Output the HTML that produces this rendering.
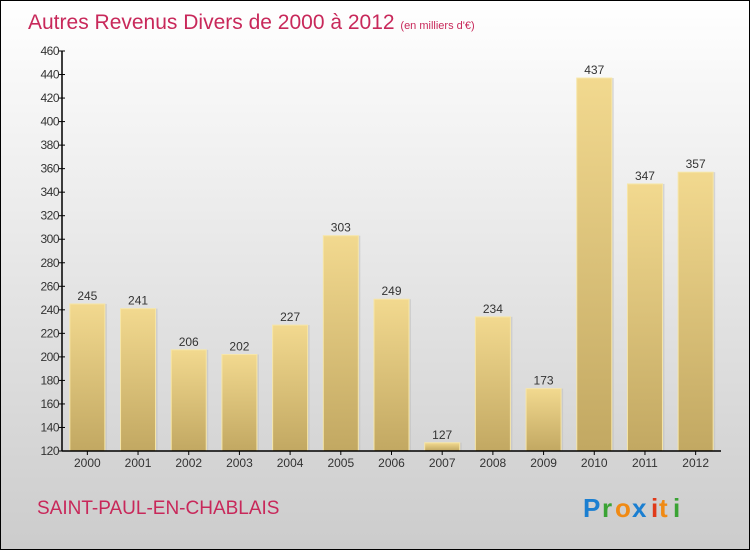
<!DOCTYPE html>
<html><head><meta charset="utf-8"><style>
body{margin:0;}
#c{position:relative;width:750px;height:550px;box-sizing:border-box;border:1px solid #000;background:linear-gradient(#ffffff,#cccccc);font-family:"Liberation Sans",sans-serif;overflow:hidden}
</style></head><body>
<div id="c">
<svg width="748" height="548" style="position:absolute;left:0;top:0" id="svg">
<defs>
<linearGradient id="bg" x1="0" y1="0" x2="0" y2="1"><stop offset="0" stop-color="#f2d98f"/><stop offset="1" stop-color="#c2a862"/></linearGradient>
</defs>
<text x="27" y="28" font-size="21" fill="#c8285a">Autres Revenus Divers de 2000 à 2012 <tspan font-size="11">(en milliers d'€)</tspan></text>
<text x="36" y="513" font-size="19" fill="#c8285a">SAINT-PAUL-EN-CHABLAIS</text>
<g font-size="26" font-weight="bold">
<text x="582" y="516" fill="#1b7fd1">P</text><text x="601" y="516" fill="#3aa334">r</text><text x="614" y="516" fill="#f08a14">o</text><text x="631" y="516" fill="#1b7fd1">x</text><text x="650" y="516" fill="#e03a1a">i</text><text x="658" y="516" fill="#f08a14">t</text><text x="672" y="516" fill="#3aa334">i</text>
</g>
<g id="plot"></g>
</svg>
</div>
<script>
const categories=["2000","2001","2002","2003","2004","2005","2006","2007","2008","2009","2010","2011","2012"];
const values=[245,241,206,202,227,303,249,127,234,173,437,347,357];
const yTicks=[120,140,160,180,200,220,240,260,280,300,320,340,360,380,400,420,440,460];
const ns="http://www.w3.org/2000/svg";
const g=document.getElementById('plot');
const x0=61,x1=720,y0=450,y1=50,vmin=120,vmax=460;
const band=(x1-x0)/categories.length;
const y=v=>y0-(v-vmin)/(vmax-vmin)*(y0-y1);
const xc=i=>x0+band*(i+0.5);
function mk(t,a){const e=document.createElementNS(ns,t);for(const k in a)e.setAttribute(k,a[k]);g.appendChild(e);return e;}
values.forEach((v,i)=>{
 const bw=35,bx=xc(i)-bw/2;
 const s=mk('rect',{x:bx+2,y:y(v),width:bw,height:y0-y(v),fill:'#bbb',opacity:0.5});
 
 
 const r=mk('rect',{x:bx,y:y(v),width:bw,height:y0-y(v),fill:'url(#bg)',stroke:'#f6e6a8','stroke-width':1});
 
 
 const t=mk('text',{x:xc(i),y:y(v)-4,'text-anchor':'middle','font-size':12,fill:'#333'});
 t.textContent=v;
 
 
 const xl=mk('text',{x:xc(i),y:466,'text-anchor':'middle','font-size':12,fill:'#333'});
 xl.textContent=categories[i];
 
 
 const xt=mk('line',{x1:xc(i),x2:xc(i),y1:y0,y2:y0+4,stroke:'#000'});
 
 
});
yTicks.forEach(v=>{
 const l=mk('line',{x1:x0-3,x2:x0+3,y1:y(v),y2:y(v),stroke:'#000'});
 
 
 const t=mk('text',{x:x0-3,y:y(v)+4,'text-anchor':'end','font-size':12,fill:'#333','letter-spacing':'-0.5'});
 t.textContent=v;
 
 
});
const ya=mk('line',{x1:x0,x2:x0,y1:y1,y2:y0,stroke:'#000','stroke-width':1.5});


const xa=mk('line',{x1:x0,x2:x1,y1:y0,y2:y0,stroke:'#000','stroke-width':1.5});


</script>
</body></html>
